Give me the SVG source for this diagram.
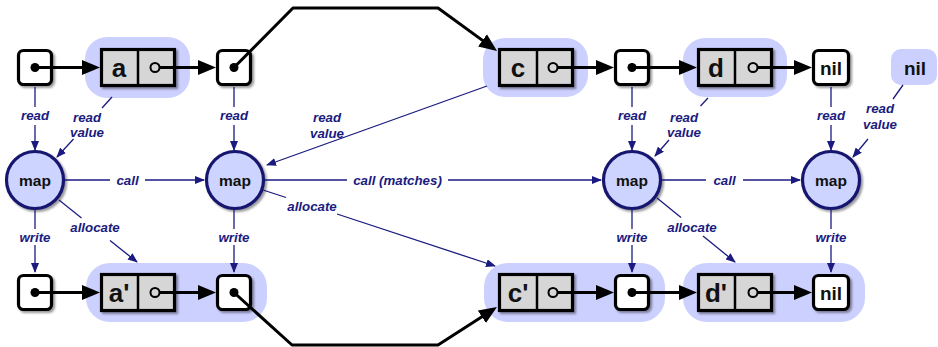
<svg xmlns="http://www.w3.org/2000/svg" width="938" height="347" viewBox="0 0 938 347">
  <defs>
    <filter id="shadow" x="-20%" y="-20%" width="150%" height="150%">
      <feDropShadow dx="2" dy="2" stdDeviation="1.3" flood-color="#000" flood-opacity="0.4"/>
    </filter>
    <!-- heavy black arrowhead for list pointers -->
    <marker id="ptr" markerUnits="userSpaceOnUse" viewBox="0 0 18 16" markerWidth="18" markerHeight="16" refX="14" refY="8" orient="auto">
      <path d="M0,0.5 L18,8 L0,15.5 z" fill="#000"/>
    </marker>
    <!-- small navy arrowhead for data-flow edges -->
    <marker id="flow" markerUnits="userSpaceOnUse" viewBox="0 0 10 8" markerWidth="10" markerHeight="8" refX="9" refY="4" orient="auto">
      <path d="M0,0 L10,4 L0,8 z" fill="#1a1a80"/>
    </marker>
  </defs>
  <style>
    .blob { fill: #ccd0ff; }
    .box { fill: #fff; stroke: #000; stroke-width: 3.2; filter: url(#shadow); }
    .cell { fill: #d6d6d6; stroke: #000; stroke-width: 3.2; filter: url(#shadow); }
    .div { stroke: #000; stroke-width: 2.5; }
    .dot { fill: #000; }
    .hole { fill: #d6d6d6; stroke: #000; stroke-width: 2; }
    .val { font-family: "Liberation Sans", Arial, sans-serif; font-weight: bold; font-size: 26px; text-anchor: middle; fill: #111; }
    .nil { font-family: "Liberation Sans", Arial, sans-serif; font-weight: bold; font-size: 19px; text-anchor: middle; fill: #111; }
    .map { fill: #ccd4ff; stroke: #14146e; stroke-width: 3.2; filter: url(#shadow); }
    .maplbl { font-family: "Liberation Sans", Arial, sans-serif; font-weight: bold; font-size: 15.5px; text-anchor: middle; fill: #111; }
    .link { fill: none; stroke: #000; stroke-width: 3; stroke-linejoin: round; }
    .edge { fill: none; stroke: #1a1a80; stroke-width: 1.3; }
    .lbl { font-family: "Liberation Sans", Arial, sans-serif; font-weight: bold; font-style: italic; font-size: 13.3px; text-anchor: middle; fill: #1a1a80; }
  </style>

  <!-- ===== input list (top row) ===== -->
  <g id="in-head">
    <rect class="box" x="18.5" y="50.5" width="33" height="34" rx="5"/>
    <circle class="dot" cx="35" cy="67.5" r="4.5"/>
  </g>
  <g id="in-a">
    <rect class="blob" x="85" y="37" width="105" height="61" rx="22"/>
    <rect class="cell" x="101.5" y="49.5" width="73" height="36"/>
    <line class="div" x1="138" y1="49.5" x2="138" y2="85.5"/>
    <text class="val" x="119" y="77">a</text>
    <circle class="hole" cx="155" cy="67.5" r="4.5"/>
  </g>
  <g id="in-p2">
    <rect class="box" x="217.5" y="50.5" width="33" height="34" rx="5"/>
    <circle class="dot" cx="234" cy="67.5" r="4.5"/>
  </g>
  <g id="in-c">
    <rect class="blob" x="483" y="38" width="105" height="59" rx="22"/>
    <rect class="cell" x="499.5" y="49.5" width="73" height="36"/>
    <line class="div" x1="537" y1="49.5" x2="537" y2="85.5"/>
    <text class="val" x="518" y="77">c</text>
    <circle class="hole" cx="553" cy="67.5" r="4.5"/>
  </g>
  <g id="in-p3">
    <rect class="box" x="615.5" y="50.5" width="33" height="34" rx="5"/>
    <circle class="dot" cx="632" cy="67.5" r="4.5"/>
  </g>
  <g id="in-d">
    <rect class="blob" x="683" y="38" width="104" height="59" rx="22"/>
    <rect class="cell" x="698.5" y="49.5" width="73" height="36"/>
    <line class="div" x1="735" y1="49.5" x2="735" y2="85.5"/>
    <text class="val" x="716" y="77">d</text>
    <circle class="hole" cx="753" cy="67.5" r="4.5"/>
  </g>
  <g id="in-nil">
    <rect class="box" x="813.5" y="50.5" width="35" height="34" rx="5"/>
    <text class="nil" x="831" y="74.5">nil</text>
  </g>
  <g id="nil-value">
    <rect class="blob" x="891" y="49" width="46" height="36" rx="10"/>
    <text class="nil" x="915" y="74.5" font-size="20">nil</text>
  </g>

  <!-- ===== map calls ===== -->
  <g id="map1">
    <circle class="map" cx="35" cy="180" r="28.5"/>
    <text class="maplbl" x="35" y="185.5">map</text>
  </g>
  <g id="map2">
    <circle class="map" cx="235" cy="180" r="28.5"/>
    <text class="maplbl" x="235" y="185.5">map</text>
  </g>
  <g id="map3">
    <circle class="map" cx="632" cy="180" r="28.5"/>
    <text class="maplbl" x="632" y="185.5">map</text>
  </g>
  <g id="map4">
    <circle class="map" cx="831" cy="180" r="28.5"/>
    <text class="maplbl" x="831" y="185.5">map</text>
  </g>

  <!-- ===== output list (bottom row) ===== -->
  <g id="out-head">
    <rect class="box" x="18.5" y="275.5" width="33" height="34" rx="5"/>
    <circle class="dot" cx="35" cy="292.5" r="4.5"/>
  </g>
  <g id="out-a">
    <rect class="blob" x="86" y="263" width="181" height="59" rx="24"/>
    <rect class="cell" x="101.5" y="274.5" width="73" height="36"/>
    <line class="div" x1="138" y1="274.5" x2="138" y2="310.5"/>
    <text class="val" x="119" y="302">a'</text>
    <circle class="hole" cx="155" cy="292.5" r="4.5"/>
    <rect class="box" x="217.5" y="275.5" width="33" height="34" rx="5"/>
    <circle class="dot" cx="234" cy="292.5" r="4.5"/>
  </g>
  <g id="out-c">
    <rect class="blob" x="484" y="263" width="181" height="59" rx="24"/>
    <rect class="cell" x="499.5" y="274.5" width="73" height="36"/>
    <line class="div" x1="537" y1="274.5" x2="537" y2="310.5"/>
    <text class="val" x="518" y="302">c'</text>
    <circle class="hole" cx="553" cy="292.5" r="4.5"/>
    <rect class="box" x="615.5" y="275.5" width="33" height="34" rx="5"/>
    <circle class="dot" cx="632" cy="292.5" r="4.5"/>
  </g>
  <g id="out-d">
    <rect class="blob" x="683" y="263" width="182" height="59" rx="24"/>
    <rect class="cell" x="698.5" y="274.5" width="73" height="36"/>
    <line class="div" x1="735" y1="274.5" x2="735" y2="310.5"/>
    <text class="val" x="716" y="302">d'</text>
    <circle class="hole" cx="753" cy="292.5" r="4.5"/>
    <rect class="box" x="813.5" y="275.5" width="35" height="34" rx="5"/>
    <text class="nil" x="831" y="299.5">nil</text>
  </g>

  <!-- ===== connectors ===== -->
  <g id="connectors">
    <!-- list pointers, input -->
    <line class="link" x1="35" y1="67.5" x2="96" y2="67.5" marker-end="url(#ptr)"/>
    <line class="link" x1="159.5" y1="67.5" x2="212" y2="67.5" marker-end="url(#ptr)"/>
    <path class="link" d="M234,67.5 L293,8 L438,8 L493.8,48.6" marker-end="url(#ptr)"/>
    <line class="link" x1="557.5" y1="67.5" x2="610" y2="67.5" marker-end="url(#ptr)"/>
    <line class="link" x1="632" y1="67.5" x2="693" y2="67.5" marker-end="url(#ptr)"/>
    <line class="link" x1="757.5" y1="67.5" x2="808" y2="67.5" marker-end="url(#ptr)"/>

    <!-- list pointers, output -->
    <line class="link" x1="35" y1="292.5" x2="96" y2="292.5" marker-end="url(#ptr)"/>
    <line class="link" x1="159.5" y1="292.5" x2="212" y2="292.5" marker-end="url(#ptr)"/>
    <path class="link" d="M234,292.5 L292,345 L438,345 L493.6,309.2" marker-end="url(#ptr)"/>
    <line class="link" x1="557.5" y1="292.5" x2="610" y2="292.5" marker-end="url(#ptr)"/>
    <line class="link" x1="632" y1="292.5" x2="693" y2="292.5" marker-end="url(#ptr)"/>
    <line class="link" x1="757.5" y1="292.5" x2="808" y2="292.5" marker-end="url(#ptr)"/>

    <!-- read (pointer cell -> map) -->
    <line class="edge" x1="35" y1="87" x2="35" y2="107"/>
    <line class="edge" x1="35" y1="125" x2="35" y2="150" marker-end="url(#flow)"/>
    <text class="lbl" x="35" y="120">read</text>
    <line class="edge" x1="234" y1="87" x2="234" y2="107"/>
    <line class="edge" x1="234" y1="125" x2="234" y2="150" marker-end="url(#flow)"/>
    <text class="lbl" x="234" y="120">read</text>
    <line class="edge" x1="632" y1="87" x2="632" y2="107"/>
    <line class="edge" x1="632" y1="125" x2="632" y2="150" marker-end="url(#flow)"/>
    <text class="lbl" x="632" y="120">read</text>
    <line class="edge" x1="831" y1="87" x2="831" y2="107"/>
    <line class="edge" x1="831" y1="125" x2="831" y2="150" marker-end="url(#flow)"/>
    <text class="lbl" x="831" y="120">read</text>

    <!-- read value (element -> map) -->
    <line class="edge" x1="112" y1="97" x2="102" y2="108"/>
    <line class="edge" x1="73.5" y1="139" x2="57" y2="157" marker-end="url(#flow)"/>
    <text class="lbl" x="87" y="121.5">read</text>
    <text class="lbl" x="87" y="136.5">value</text>

    <line class="edge" x1="487" y1="86" x2="267" y2="165" marker-end="url(#flow)"/>
    <text class="lbl" x="327" y="122">read</text>
    <text class="lbl" x="327" y="137.5">value</text>

    <line class="edge" x1="708" y1="98" x2="700.5" y2="106"/>
    <line class="edge" x1="669" y1="140" x2="655" y2="156" marker-end="url(#flow)"/>
    <text class="lbl" x="684" y="121.5">read</text>
    <text class="lbl" x="684" y="136.5">value</text>

    <line class="edge" x1="903" y1="85" x2="893" y2="99"/>
    <line class="edge" x1="868" y1="139" x2="853" y2="157" marker-end="url(#flow)"/>
    <text class="lbl" x="880" y="113">read</text>
    <text class="lbl" x="880" y="129">value</text>

    <!-- call (map -> map) -->
    <line class="edge" x1="65" y1="180" x2="110" y2="180"/>
    <line class="edge" x1="145" y1="180" x2="204" y2="180" marker-end="url(#flow)"/>
    <text class="lbl" x="127.5" y="184.5">call</text>
    <line class="edge" x1="265" y1="180" x2="347" y2="180"/>
    <line class="edge" x1="448" y1="180" x2="601" y2="180" marker-end="url(#flow)"/>
    <text class="lbl" x="397.5" y="184.5">call (matches)</text>
    <line class="edge" x1="662" y1="180" x2="706" y2="180"/>
    <line class="edge" x1="743" y1="180" x2="800" y2="180" marker-end="url(#flow)"/>
    <text class="lbl" x="724.5" y="184.5">call</text>

    <!-- write (map -> output pointer cell) -->
    <line class="edge" x1="35" y1="209" x2="35" y2="229"/>
    <line class="edge" x1="35" y1="245" x2="35" y2="272" marker-end="url(#flow)"/>
    <text class="lbl" x="35" y="242">write</text>
    <line class="edge" x1="234" y1="209" x2="234" y2="229"/>
    <line class="edge" x1="234" y1="245" x2="234" y2="272" marker-end="url(#flow)"/>
    <text class="lbl" x="234" y="242">write</text>
    <line class="edge" x1="632" y1="209" x2="632" y2="229"/>
    <line class="edge" x1="632" y1="245" x2="632" y2="272" marker-end="url(#flow)"/>
    <text class="lbl" x="632" y="242">write</text>
    <line class="edge" x1="831" y1="209" x2="831" y2="229"/>
    <line class="edge" x1="831" y1="245" x2="831" y2="272" marker-end="url(#flow)"/>
    <text class="lbl" x="831" y="242">write</text>

    <!-- allocate (map -> new element) -->
    <line class="edge" x1="59" y1="200" x2="81.5" y2="218"/>
    <line class="edge" x1="110" y1="240.5" x2="137" y2="262" marker-end="url(#flow)"/>
    <text class="lbl" x="95" y="232">allocate</text>
    <line class="edge" x1="263" y1="190" x2="286" y2="197.5"/>
    <line class="edge" x1="337" y1="214" x2="495" y2="266" marker-end="url(#flow)"/>
    <text class="lbl" x="312" y="210.5">allocate</text>
    <line class="edge" x1="657" y1="198" x2="681" y2="217.5"/>
    <line class="edge" x1="703" y1="236" x2="735" y2="262" marker-end="url(#flow)"/>
    <text class="lbl" x="692" y="232">allocate</text>
  </g>
</svg>
